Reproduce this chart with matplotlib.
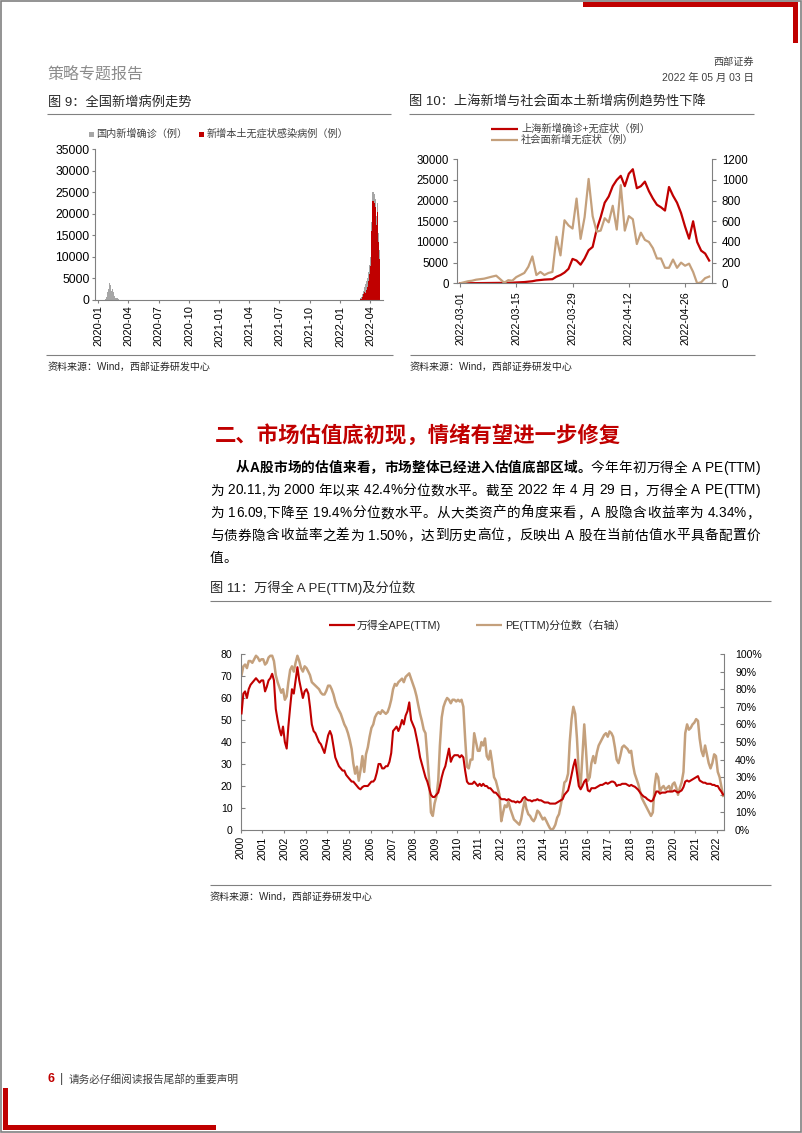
import numpy as np
import matplotlib
matplotlib.use('Agg')
import matplotlib.pyplot as plt
import matplotlib.dates as mdates
from matplotlib.patches import Rectangle
from matplotlib import font_manager as fm
from matplotlib.ticker import FuncFormatter

plt.rcParams['font.family'] = ['Liberation Sans', 'Noto Sans CJK SC']
plt.rcParams['axes.unicode_minus'] = False

# ---------------- DATA ----------------
# Fig 9: national new cases (daily)
gray9_start_2020 = '2020-01-20'
gray9_2020 = [80, 150, 130, 260, 440, 690, 770, 1770, 1460, 1740, 1980, 2100, 2590, 2830,
              3240, 3890, 3690, 3140, 3390, 2650, 2970, 2020, 14000, 5090, 2640, 2010, 2050,
              1890, 1750, 390, 890, 820, 650, 410, 510, 410, 430, 330, 430, 570, 200, 130,
              120, 140, 140, 100, 50, 40, 20, 20, 15, 10, 10, 20, 15, 20]
start9_2022 = '2022-03-01'
gray9_2022 = [300, 400, 500, 600, 700, 800, 1000, 1200, 1400, 1600, 1800, 2000, 2300, 2600,
              3000, 3200, 3400, 3600, 3800, 4100, 4400, 4700, 5000, 5200, 5500, 6000, 6500,
              7500, 7800, 8000, 7500, 8500, 10000, 11000, 15000, 18000, 21500, 23000, 25000,
              26500, 28000, 25000, 28500, 29500, 24500, 25000, 26000, 23500, 22000, 20500,
              19500, 19000, 23000, 22500, 21000, 18500, 15500, 12500, 16000, 11500, 9500,
              8800, 7000]
red9_2022 = [100, 120, 150, 200, 250, 300, 400, 600, 800, 1000, 1100, 1300, 1500, 1800,
             1900, 1500, 1400, 1600, 1900, 2000, 2300, 2400, 2600, 3000, 3500, 4000, 4500,
             5600, 5700, 6000, 5500, 6300, 7800, 8600, 13000, 16000, 19500, 21000, 23000,
             24500, 26000, 23000, 26500, 27000, 22500, 23000, 24000, 21500, 20000, 18500,
             17500, 17000, 21000, 20500, 19000, 16500, 13500, 10500, 14000, 9500, 7500,
             6800, 5000]
ticks9 = ['2020-01', '2020-04', '2020-07', '2020-10', '2021-01', '2021-04', '2021-07',
          '2021-10', '2022-01', '2022-04']

# Fig 10: Shanghai (daily from 2022-03-01)
start10 = '2022-03-01'
sh_total = [0, 10, 20, 30, 40, 50, 60, 70, 80, 90, 100, 120, 130, 150,
            200, 250, 300, 400, 500, 700, 800, 900, 950, 1000,
            1600, 2000, 2600, 3500,
            5900, 5500, 4500, 6000, 8000, 8800,
            13000, 16000, 19500, 21000, 23500, 25000, 26000,
            23500, 26500, 27600,
            23000, 23500, 24600, 22300, 20500, 19000, 18400, 17600,
            23300, 21200, 19500, 17000, 13700, 10800, 15000, 10000, 7900, 7200, 5500]
sh_social = [0, 10, 20, 25, 35, 40, 45, 55, 65, 74, 40, 5, 30, 25,
             60, 80, 100, 160, 260, 80, 110, 80, 100, 110,
             450, 270, 610, 560, 530, 820, 430, 640, 1010, 650,
             500, 510, 630, 590, 750, 520, 950, 510, 650, 620,
             380, 490, 420, 400, 340, 240, 240, 150, 150, 230,
             150, 200, 170, 190, 110, 0, 10, 50, 65]
ticks10 = ['2022-03-01', '2022-03-15', '2022-03-29', '2022-04-12', '2022-04-26']

# Fig 11: Wind All A PE(TTM) and percentile (monthly, 2000-01 .. 2022-04)
pe_ttm = [
    53, 62, 63, 60, 64, 66, 67, 68, 69, 68, 67, 68,
    68, 63, 65, 68, 69, 71, 68, 55, 50, 46, 43, 47,
    40, 37, 47, 56, 64, 62, 68, 74, 68, 64, 60, 63,
    64, 62, 56, 48, 45, 44, 42, 40, 39, 37, 35, 39,
    43, 45, 43, 38, 33, 31, 29, 28, 27, 27, 25, 24,
    23, 22, 22, 21, 20, 19, 18.5, 19.5, 20, 20, 20, 21,
    22, 22, 23, 26, 30, 30, 28, 28, 29, 29, 31, 35,
    45, 46, 47, 45, 47, 50, 48, 52, 54, 58, 50, 48,
    46, 42, 38, 33, 30, 27, 24, 22, 19, 16, 15, 15,
    16, 17, 20, 24, 27, 29, 33, 37, 31, 33, 34, 34,
    34, 33, 34, 33, 27, 22, 21, 21, 21, 22, 21, 20,
    21, 20, 21, 20, 20, 19, 19, 18, 17, 17, 16, 15,
    14, 14, 14, 13.5, 14, 13.5, 13, 13, 12.5, 13, 12.5, 13,
    14.5, 15, 14, 13.5, 13.5, 13, 13.5, 13.5, 14, 13.5, 13.5, 13,
    12.5, 12.5, 12.5, 12, 12, 12, 12, 12.5, 13, 13.5, 14, 16,
    17, 18, 21, 25, 29, 32, 26, 20, 18.5, 20, 22, 23,
    18, 17.5, 19, 19, 19, 19.5, 20, 20.5, 20.5, 21, 21.5, 21,
    21.5, 22, 22, 21.5, 20, 20.5, 20.5, 21, 21, 21, 20.5, 20,
    20.5, 20, 19.7, 19, 18.2, 17, 16, 15.2, 14.8, 14, 13.5, 13,
    13.5, 15.5, 17.5, 17.5, 16.5, 17, 17, 17, 17.5, 17.5, 17.5, 17.5,
    18, 17.5, 17, 17.5, 18, 19.5, 22, 22.5, 22, 22.5, 23, 23.5,
    24, 24.5, 22.5, 22, 21.5, 21.5, 21, 21, 21, 20.5, 20.5, 20,
    20, 18.5, 17.5, 16.1]
pe_pct = [
    88, 93, 94, 92, 96, 96, 95, 97, 99, 98, 96, 97,
    97, 94, 95, 98, 99, 99, 96, 88, 84, 81, 78, 80,
    74, 76, 84, 91, 93, 90, 95, 99, 96, 92, 90, 93,
    92, 90, 88, 84, 83, 82, 81, 80, 78, 77, 77, 79,
    82, 82, 80, 77, 73, 70, 68, 66, 63, 60, 58, 55,
    51, 46, 38, 32, 36, 28, 34, 42, 33, 43, 47, 53,
    58, 60, 64, 66, 67, 66, 68, 67, 66, 67, 70, 74,
    80, 83, 82, 84, 85, 86, 84, 87, 88, 89, 86, 83,
    80, 76, 71, 66, 62, 57, 55, 42, 28, 10, 8, 15,
    19, 28, 48, 64, 70, 73, 75, 74, 72, 74, 74, 73,
    74, 73, 74, 70, 52, 36, 35, 40, 40, 55, 50, 45,
    45, 50, 48, 52, 42, 40, 45, 38, 30, 28, 24, 20,
    5, 10, 14, 13, 16, 12, 9, 6, 5, 4, 3, 6,
    12, 17, 12, 9, 8, 6, 5, 7, 11, 10, 8, 6,
    7, 5, 3, 1, 0, 1, 3, 7, 9, 14, 20, 27,
    28, 32, 50, 63, 70, 66, 52, 32, 25, 42, 60, 45,
    28, 30, 38, 42, 38, 44, 48, 50, 52, 54, 55, 53,
    56, 55, 53, 47, 40, 38, 42, 47, 48, 47, 46, 44,
    45, 37, 32, 29, 26, 22, 18, 16, 14, 12, 10, 8,
    10, 25, 32, 30, 22, 24, 25, 23, 24, 25, 22, 26,
    27, 24, 20, 24, 27, 33, 55, 60, 57, 58, 60, 61,
    63, 62, 52, 45, 42, 48, 43, 38, 35, 38, 43, 42,
    33, 30, 25, 19.4]
start11 = '2000-01'
years11 = [str(y) for y in range(2000, 2023)]

# ---------------- COLORS ----------------
RED = '#C00000'
TAN = '#C4A07C'
GRAY = '#A6A6A6'
AXC = '#808080'
TXT = '#262626'

W, H = 802, 1133
fig = plt.figure(figsize=(W / 100, H / 100), dpi=100)
fig.patch.set_facecolor('white')

ov = fig.add_axes([0, 0, 1, 1], zorder=0)
ov.set_xlim(0, W)
ov.set_ylim(H, 0)
ov.axis('off')


def axes_px(x0, y0, x1, y1):
    a = fig.add_axes([x0 / W, 1 - y1 / H, (x1 - x0) / W, (y1 - y0) / H], zorder=2)
    a.set_facecolor('none')
    return a


def rect(x0, y0, x1, y1, color):
    ov.add_patch(Rectangle((x0, y0), x1 - x0, y1 - y0, facecolor=color, edgecolor='none'))


def hline(x0, x1, y, color=AXC, lw=0.8):
    ov.plot([x0, x1], [y, y], color=color, lw=lw, solid_capstyle='butt')


def txt(x, y, s, size, color=TXT, ha='left', va='center', weight='normal'):
    ov.text(x, y, s, fontsize=size, color=color, ha=ha, va=va, fontweight=weight)


_paths = {}


def char_adv(ch, size, weight):
    fam = 'Liberation Sans' if ord(ch) < 128 else 'Noto Sans CJK SC'
    key = (fam, weight)
    if key not in _paths:
        _paths[key] = fm.findfont(fm.FontProperties(family=fam, weight=weight))
    f = fm.get_font(_paths[key])
    f.set_size(size, 100)
    g = f.load_char(ord(ch))
    return g.linearHoriAdvance / 65536.0


def para_line(segs, x0, x1, y, size, justify=True):
    chars = []
    for s, w in segs:
        for ch in s:
            chars.append((ch, w))
    try:
        advs = [char_adv(c, size, w) for c, w in chars]
    except Exception:
        xx = x0
        for s, w in segs:
            ov.text(xx, y, s, fontsize=size, fontweight=w, color='#000000', ha='left', va='baseline')
        return
    natural = sum(advs)
    gaps = []
    for i in range(len(chars) - 1):
        a, b = chars[i][0], chars[i + 1][0]
        both_latin = ord(a) < 128 and ord(b) < 128 and a != ' ' and b != ' '
        gaps.append(not both_latin)
    n = sum(gaps)
    extra = (x1 - x0 - natural) / n if (justify and n) else 0
    x = x0
    for i, ((c, w), a) in enumerate(zip(chars, advs)):
        if c != ' ':
            ov.text(x, y, c, fontsize=size, fontweight=w, color='#000000', ha='left', va='baseline')
        x += a
        if i < len(gaps) and gaps[i]:
            x += extra


# ---------------- PAGE DECORATION ----------------
ov.add_patch(Rectangle((0.8, 0.8), 800, 1131, facecolor='none', edgecolor='#808080', lw=1.2))
rect(583, 2, 798, 7, RED)
rect(793, 2, 798, 43, RED)
rect(3, 1088, 7.5, 1130, RED)
rect(3, 1125, 216, 1130, RED)

txt(47, 74, '策略专题报告', 11.5, color='#8C8C8C')
txt(754, 62, '西部证券', 7.3, color='#404040', ha='right')
txt(754, 78, '2022 年 05 月 03 日', 7.5, color='#404040', ha='right')

txt(48, 102, '图 9：全国新增病例走势', 9.5)
hline(47, 391, 114)
txt(409, 102, '图 10：上海新增与社会面本土新增病例趋势性下降', 9.5)
hline(409, 754, 114)

hline(46, 393, 355)
txt(48, 367, '资料来源：Wind，西部证券研发中心', 7.2)
hline(410, 755, 355)
txt(410, 367, '资料来源：Wind，西部证券研发中心', 7.2)

txt(215, 435, '二、市场估值底初现，情绪有望进一步修复', 15.4, color=RED, weight='bold')

PS = 9.8
para_line([('从A股市场的估值来看，市场整体已经进入估值底部区域。', 'bold'),
           ('今年年初万得全 A PE(TTM)', 'normal')], 236, 760, 472, PS)
para_line([('为 20.11,为 2000 年以来 42.4%分位数水平。截至 2022 年 4 月 29 日，万得全 A PE(TTM)', 'normal')],
          210, 760, 494.5, PS)
para_line([('为 16.09,下降至 19.4%分位数水平。从大类资产的角度来看，A 股隐含收益率为 4.34%，', 'normal')],
          210, 760, 517, PS)
para_line([('与债券隐含收益率之差为 1.50%，达到历史高位，反映出 A 股在当前估值水平具备配置价', 'normal')],
          210, 760, 539.5, PS)
para_line([('值。', 'normal')], 210, 760, 562, PS, justify=False)

txt(210, 588, '图 11：万得全 A PE(TTM)及分位数', 9.5)
hline(210, 771, 601)
hline(210, 771, 885)
txt(210, 897, '资料来源：Wind，西部证券研发中心', 7.2)

txt(47, 1079, '6', 9, color=RED, weight='bold')
txt(60, 1079, '|', 9, color='#404040')
txt(69, 1079, '请务必仔细阅读报告尾部的重要声明', 7.7, color='#404040')


def style_spines(a, show):
    for k, s in a.spines.items():
        s.set_visible(k in show)
        s.set_color(AXC)
        s.set_linewidth(0.8)


def dnum(start, n):
    d0 = np.datetime64(start, 'D')
    return mdates.date2num(d0 + np.arange(n))


# ---------------- FIG 9 ----------------
ax9 = axes_px(95, 149, 383, 300)
x20 = dnum(gray9_start_2020, len(gray9_2020))
x22 = dnum(start9_2022, len(gray9_2022))
ax9.fill_between(x20, gray9_2020, step='mid', color=GRAY, lw=0)
ax9.fill_between(x22, gray9_2022, step='mid', color=GRAY, lw=0)
ax9.fill_between(x22, red9_2022, step='mid', color=RED, lw=0)
ax9.set_ylim(0, 35000)
ax9.set_yticks(np.arange(0, 35001, 5000))
ax9.set_xlim(mdates.date2num(np.datetime64('2019-12-22')), mdates.date2num(np.datetime64('2022-05-10')))
ax9.set_xticks([mdates.date2num(np.datetime64(t + '-01')) for t in ticks9])
ax9.set_xticklabels(ticks9, rotation=90)
style_spines(ax9, ['left', 'bottom'])
ax9.tick_params(axis='y', direction='out', length=2.5, width=0.8, color=AXC, pad=1.5, labelsize=8.7, labelcolor='#000000')
ax9.tick_params(axis='x', direction='out', length=2.5, width=0.8, color=AXC, pad=1.5, labelsize=8.0, labelcolor='#000000')

rect(89, 131.5, 94, 136.5, GRAY)
txt(96, 134, '国内新增确诊（例）', 7.3, color='#404040')
rect(199, 131.5, 204, 136.5, RED)
txt(207, 134, '新增本土无症状感染病例（例）', 7.3, color='#404040')

# ---------------- FIG 10 ----------------
ax10 = axes_px(457, 159.3, 712, 283.3)
x10 = dnum(start10, len(sh_total))
ax10.plot(x10, sh_total, color=RED, lw=1.6)
ax10.set_ylim(0, 30000)
ax10.set_yticks(np.arange(0, 30001, 5000))
ax10.set_xlim(x10[0] - 0.75, x10[0] + 62.7)
ax10.set_xticks([mdates.date2num(np.datetime64(t)) for t in ticks10])
ax10.set_xticklabels(ticks10, rotation=90)
style_spines(ax10, ['left', 'bottom'])
ax10.tick_params(axis='y', direction='out', length=3, width=0.8, color=AXC, pad=2.8, labelsize=8.3, labelcolor='#000000')
ax10.tick_params(axis='x', direction='out', length=3, width=0.8, color=AXC, pad=3, labelsize=7.6, labelcolor='#000000')
ax10r = ax10.twinx()
ax10r.set_facecolor('none')
ax10r.plot(x10, sh_social, color=TAN, lw=1.6)
ax10r.set_ylim(0, 1200)
ax10r.set_yticks(np.arange(0, 1201, 200))
style_spines(ax10r, ['right'])
ax10r.tick_params(axis='y', direction='out', length=3, width=0.8, color=AXC, pad=4, labelsize=8.3, labelcolor='#000000')

ov.plot([491, 518], [129, 129], color=RED, lw=1.6, solid_capstyle='butt')
txt(521, 129, '上海新增确诊+无症状（例）', 7.4, color='#404040')
ov.plot([491, 518], [140, 140], color=TAN, lw=1.6, solid_capstyle='butt')
txt(521, 140, '社会面新增无症状（例）', 7.4, color='#404040')

# ---------------- FIG 11 ----------------
ax11 = axes_px(240.7, 654, 724, 830)
m0 = np.datetime64(start11, 'M')
months = m0 + np.arange(len(pe_ttm))
x11 = mdates.date2num(months.astype('datetime64[D]') + 14)
ax11.plot(x11, pe_ttm, color=RED, lw=1.5, zorder=3)
ax11.set_ylim(0, 80)
ax11.set_yticks(np.arange(0, 81, 10))
ax11.set_xlim(mdates.date2num(np.datetime64('2000-01-01')), mdates.date2num(np.datetime64('2022-04-30')))
ax11.set_xticks([mdates.date2num(np.datetime64(y + '-01-01')) for y in years11])
ax11.set_xticklabels(years11, rotation=90)
style_spines(ax11, ['left', 'bottom'])
ax11.tick_params(axis='y', direction='in', length=3, width=0.8, color=AXC, pad=6, labelsize=7.6, labelcolor='#000000')
ax11.tick_params(axis='x', direction='out', length=2, width=0.8, color=AXC, pad=2.5, labelsize=7.6, labelcolor='#000000')
ax11r = ax11.twinx()
ax11r.set_facecolor('none')
ax11r.plot(x11, np.array(pe_pct) / 100.0, color=TAN, lw=1.8)
ax11r.set_ylim(0, 1)
ax11r.set_yticks(np.arange(0, 1.001, 0.1))
ax11r.yaxis.set_major_formatter(FuncFormatter(lambda v, p: f'{v * 100:.0f}%'))
style_spines(ax11r, ['right'])
ax11r.tick_params(axis='y', direction='in', length=3, width=0.8, color=AXC, pad=8, labelsize=7.6, labelcolor='#000000')
ax11.set_zorder(3)
ax11.patch.set_visible(False)

ov.plot([329, 355], [625, 625], color=RED, lw=1.6, solid_capstyle='butt')
txt(357, 625, '万得全APE(TTM)', 7.8, color='#262626')
ov.plot([476, 502], [625, 625], color=TAN, lw=1.6, solid_capstyle='butt')
txt(505, 625, 'PE(TTM)分位数（右轴）', 7.8, color='#262626')

fig.savefig('out.png', dpi=100, facecolor='white')
